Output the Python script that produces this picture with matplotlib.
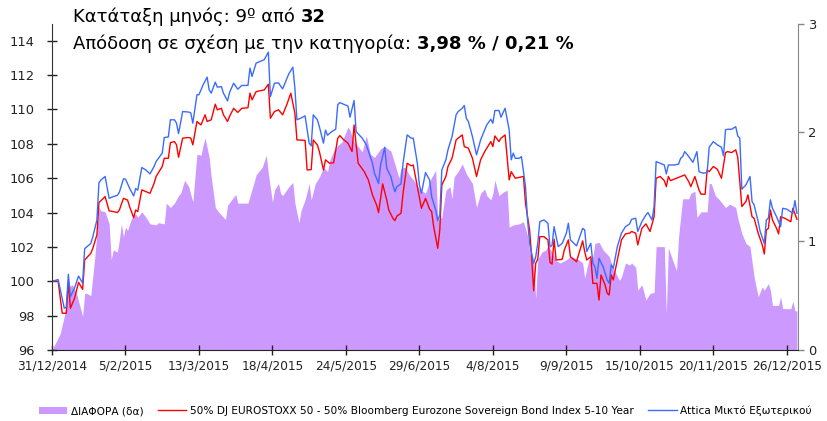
import numpy as np
import matplotlib
matplotlib.use("Agg")
import matplotlib.pyplot as plt
import matplotlib.dates as mdates
from matplotlib.patches import Patch
from matplotlib.lines import Line2D
import datetime as dt

# ---------------- data ----------------
start_date = "2014-12-31"
end_date = "2015-12-31"

# Attica Μικτό Εξωτερικού (day offset from start, value)
fund_days = [0, 3, 6, 7, 8, 9, 11, 13, 15, 16, 19, 20, 22, 23, 24, 26, 28, 30, 32, 33, 35, 36, 38, 40, 41, 42,
             44, 46, 48, 50, 51, 54, 55, 57, 58, 60, 61, 62, 64, 67, 68, 69, 71, 72, 74, 76, 77, 78, 80, 81, 83, 84,
             86, 87, 89, 91, 93, 96, 97, 98, 100, 102, 104, 106, 107, 109, 111, 112, 113, 116, 118, 119, 120, 122,
             124, 126, 127, 128, 130, 131, 133, 134, 135, 137, 139, 140, 141, 145, 146, 148, 149, 152, 154, 157,
             158, 160, 161, 163, 164, 166, 167, 168, 169, 171, 172, 174, 176, 177, 179, 180, 181, 183, 185, 186,
             188, 189, 190, 191, 193, 194, 196, 198, 199, 201, 202, 203, 204, 206, 208, 210, 212, 213, 215, 216,
             217, 219, 220, 221, 222, 224, 225, 226, 227, 229, 230, 232, 233, 234, 236, 237, 238, 239, 241, 243,
             244, 245, 246, 248, 250, 252, 253, 254, 257, 260, 261, 262, 264, 265, 266, 267, 268, 270, 272, 273,
             274, 275, 277, 279, 281, 283, 284, 286, 287, 289, 291, 292, 294, 295, 296, 298, 300, 301, 302, 305,
             307, 308, 309, 310, 312, 314, 316, 317, 319, 321, 322, 324, 326, 328, 329, 330, 331, 333, 335, 336,
             337, 338, 340, 342, 343, 344, 346, 347, 349, 350, 351, 352, 353, 355, 357, 358, 360, 363, 364, 365]
fund_vals = [100.0, 100.1, 98.43, 98.5, 100.41, 99.1, 99.6, 100.3, 99.9, 101.9, 102.2, 102.6, 103.57, 105.74,
             105.9, 106.1, 104.83, 104.93, 105.0, 105.18, 105.96, 105.95, 105.42, 104.97, 105.4, 105.3,
             106.62, 106.48, 106.25, 106.68, 106.97, 107.46, 108.37, 108.4, 109.4, 109.4, 109.2, 108.6, 109.88,
             109.85, 109.8, 109.2, 110.85, 110.86, 111.43, 111.88, 111.14, 110.95, 111.59, 111.3, 111.33, 110.95,
             110.5, 110.99, 111.53, 111.18, 111.4, 111.4, 112.41, 111.92, 112.7, 112.8, 112.9, 113.34, 110.75,
             111.53, 111.55, 111.36, 111.2, 112.07, 112.46, 111.24, 109.4, 109.5,
             109.63, 108.04, 107.88, 109.69, 109.4, 109.0, 108.04, 108.8, 108.5, 108.71, 108.85, 110.27, 110.4,
             110.2, 109.55, 110.52, 108.71, 108.33, 107.94, 106.87,
             106.29, 105.7, 106.77, 107.8, 106.58, 106.1, 105.61, 105.22, 105.51, 105.67, 106.87, 108.52, 108.33,
             108.33, 106.87, 105.61, 105.12, 106.33, 105.9, 104.93,
             104.15, 103.53, 103.86, 106.48, 107.07, 107.65, 108.42, 109.69, 109.88, 110.07, 110.23, 109.49,
             109.3, 108.42, 107.36, 108.23, 108.81, 109.1, 109.43, 109.2,
             109.94, 109.94, 109.55, 109.82, 110.07, 108.81, 107.07, 107.46, 107.16, 107.16, 107.26, 105.51,
             103.57, 102.21, 101.05, 101.43, 102.21, 103.47, 103.57, 103.38,
             102.0, 102.1, 103.18, 102.02, 102.21, 102.8, 103.38, 102.41, 102.06, 103.08, 102.99, 101.73, 102.21,
             101.05, 100.85, 100.17, 101.34, 100.85, 100.08, 99.88,
             100.95, 100.76, 102.02, 102.8, 103.18, 103.34, 103.61, 103.67, 102.9, 103.47, 103.86, 104.0, 103.57,
             104.35, 106.97, 106.87, 106.77, 106.25, 106.77, 106.77,
             106.82, 107.16, 107.26, 107.55, 107.26, 106.92, 107.55, 106.38, 106.29, 106.33, 107.8, 108.13,
             107.94, 107.8, 107.3, 108.81, 108.85, 108.85, 109.0, 108.46,
             108.33, 105.36, 105.61, 106.1, 104.64, 104.45, 103.47, 102.89, 102.21, 103.57, 103.67, 104.74,
             104.25, 103.76, 103.18, 104.25, 104.2, 103.96, 104.7, 103.96]

# 50% DJ EUROSTOXX 50 - 50% Bloomberg Eurozone Sovereign Bond Index 5-10 Year
bench_days = [0, 3, 5, 7, 8, 9, 11, 13, 15, 16, 19, 20, 22, 23, 26, 28, 30, 32, 33, 35, 37, 38, 40, 41, 42, 44,
              46, 48, 50, 51, 54, 55, 57, 58, 60, 61, 62, 64, 67, 68, 69, 71, 73, 75, 76, 78, 80, 81, 83, 84, 86,
              87, 89, 91, 93, 96, 97, 98, 100, 104, 106, 107, 109, 111, 113, 115, 117, 119, 120, 124, 125, 127,
              128, 130, 131, 133, 134, 136, 138, 140, 141, 143, 145, 147, 148, 150, 153, 155, 157, 159, 160, 162,
              164, 165, 167, 168, 169, 171, 172, 174, 176, 177, 179, 181, 183, 185, 186, 187, 189, 190, 191, 193,
              194, 196, 198, 199, 201, 202, 204, 206, 208, 210, 212, 214, 215, 216, 217, 219, 220, 222, 224, 225,
              227, 229, 231, 232, 234, 235, 236, 237, 238, 239, 241, 243, 244, 245, 246, 247, 250, 251, 253, 254,
              257, 260, 261, 262, 264, 265, 267, 268, 269, 271, 272, 273, 274, 275, 277, 279, 281, 283, 284, 286,
              287, 289, 291, 293, 295, 296, 298, 300, 301, 302, 303, 306, 308, 310, 312, 313, 315, 317, 318, 320,
              321, 322, 324, 326, 328, 330, 331, 333, 335, 336, 338, 340, 341, 343, 344, 346, 348, 349, 350, 351,
              352, 353, 355, 356, 357, 359, 362, 363, 365]
bench_vals = [100.0, 100.0, 98.14, 98.14, 99.98, 98.43, 99.0, 99.94, 99.53, 101.24, 101.63, 101.92, 102.7,
              104.58, 104.93, 104.1, 104.06, 104.0, 104.15, 104.83, 104.73, 104.35, 103.7, 104.15, 104.06, 105.32,
              105.22, 105.12, 105.7, 106.1, 106.68, 107.16, 107.16, 108.07, 108.13, 107.94, 107.22, 108.33,
              108.37, 108.33, 107.94, 109.3, 109.1, 109.69, 109.3, 109.4, 110.31, 109.98, 110.07, 109.69, 109.3,
              109.6, 110.07, 109.83, 110.07, 110.1, 110.95, 110.56, 111.04, 111.14, 111.47, 109.49, 109.88, 109.98,
              109.69, 110.27, 110.95, 109.78, 108.23, 108.2, 106.48, 106.5,
              108.23, 107.94, 107.55, 106.48, 107.07, 106.87, 106.9, 108.33, 108.48, 108.23, 108.04, 107.55, 109.1,
              106.87, 106.38, 105.9, 105.03, 104.45, 104.0, 105.67,
              104.74, 104.15, 103.67, 103.53, 103.8, 103.96, 105.12, 106.87, 106.72, 106.77, 105.51, 104.25,
              104.83, 104.2, 104.06, 103.18, 101.92, 102.99, 105.61, 106.1,
              106.68, 107.16, 108.23, 108.33, 108.52, 107.84, 107.75, 107.16, 106.1, 107.07, 107.55, 107.94, 108.13,
              107.84, 108.46, 108.13, 108.33, 108.52, 105.9, 106.38,
              106.0, 106.05, 106.1, 104.54, 102.99, 101.43, 99.45, 101.05, 101.28, 102.6, 102.6, 102.41, 101.1,
              101.0, 102.45, 101.24, 101.28, 101.82, 102.41, 101.43,
              101.14, 102.35, 101.73, 101.24, 101.43, 99.88, 99.88, 98.91, 100.37, 99.79, 99.3, 99.2, 100.37,
              100.08, 101.24, 102.41, 102.76, 102.8, 102.9, 102.8,
              102.12, 103.08, 103.34, 102.9, 103.76, 106.0, 106.1, 105.86, 105.51, 106.1, 105.86, 106.0, 106.1,
              106.19, 105.8, 105.51, 106.1, 105.32, 105.07, 105.07,
              106.48, 106.38, 106.68, 106.52, 106.0, 107.49, 107.55, 107.49, 107.65, 107.22, 104.35, 104.64,
              105.03, 103.76, 103.67, 102.8, 102.12, 101.59, 102.99, 103.08,
              104.15, 103.57, 103.08, 102.76, 103.76, 103.67, 103.47, 104.25, 103.61]

# ΔΙΑΦΟΡΑ (δα), right axis
diff_days = [0, 4, 6, 8, 10, 12, 15, 16, 17, 19, 21, 23, 24, 26, 28, 29, 30, 32, 33, 34, 35, 36, 37, 39, 41,
             42, 44, 46, 48, 51, 52, 55, 56, 58, 60, 62, 63, 65, 67, 69, 71, 73, 74, 75, 77, 78, 80, 82, 85, 86,
             88, 90, 91, 93, 96, 99, 100, 103, 105, 106, 108, 109, 111, 112, 113, 116, 118, 119, 121, 122, 124,
             126, 127, 129, 131, 133, 135, 136, 138, 140, 142, 145, 146, 148, 150, 152, 154, 156, 158, 161, 163,
             166, 168, 170, 171, 173, 175, 178, 180, 183, 185, 187, 188, 189, 191, 192, 193, 195, 196, 197, 199,
             201, 203, 206, 208, 210, 212, 213, 215, 216, 217, 219, 221, 223, 224, 226, 229, 231, 233, 234, 236,
             237, 238, 240, 242, 243, 245, 247, 249, 252, 254, 258, 260, 261, 263, 265, 266, 268, 270, 273, 275,
             278, 279, 281, 283, 284, 286, 287, 289, 291, 293, 295, 296, 300, 301, 302, 304, 306, 307, 308, 309,
             312, 313, 315, 316, 318, 321, 322, 323, 325, 327, 330, 332, 335, 336, 338, 340, 342, 344, 346, 348,
             349, 351, 352, 353, 356, 357, 358, 362, 363, 364, 365]
diff_vals = [0.0, 0.15, 0.31, 0.58, 0.6, 0.52, 0.31, 0.52, 0.52, 0.5, 0.86, 1.31, 1.28, 1.27, 1.16, 0.83, 0.92,
             0.9, 1.01, 1.16, 1.04, 1.13, 1.1, 1.21, 1.25,
             1.22, 1.27, 1.22, 1.16, 1.15, 1.17, 1.16, 1.35, 1.31, 1.35, 1.42, 1.44, 1.56, 1.5, 1.36, 1.8, 1.79,
             1.88, 1.95, 1.77, 1.59, 1.31, 1.26, 1.2, 1.33,
             1.38, 1.43, 1.35, 1.35, 1.35, 1.54, 1.61, 1.68, 1.79, 1.62, 1.36, 1.47, 1.53, 1.44, 1.42, 1.5, 1.54,
             1.35, 1.17, 1.28, 1.38,
             1.53, 1.38, 1.53, 1.59, 1.68, 1.64, 1.74, 1.83, 1.88, 1.91, 2.05, 2.02, 1.91, 1.87, 1.82, 1.97, 1.8,
             1.77, 1.85, 1.87,
             1.83, 1.71, 1.58, 1.67, 1.68, 1.61, 1.54, 1.48, 1.44, 1.55, 1.62, 1.65, 1.19, 1.22, 1.35, 1.47, 1.5,
             1.39, 1.59, 1.64,
             1.71, 1.62, 1.53, 1.31, 1.44, 1.48, 1.42, 1.38, 1.44, 1.56, 1.42, 1.45, 1.47, 1.13, 1.15, 1.16, 1.18,
             1.05, 0.9, 0.8,
             0.47, 0.83, 0.9, 0.92, 0.96, 0.9, 0.82, 0.8, 0.83, 0.86, 0.83, 0.8, 0.66, 0.83, 0.86, 0.98, 0.99,
             0.92, 0.86, 0.75,
             0.64, 0.67, 0.8, 0.78, 0.8, 0.76, 0.55, 0.6, 0.46, 0.52, 0.53, 0.95, 0.95, 0.34, 0.94, 0.83, 0.73,
             1.04, 1.22, 1.39,
             1.39, 1.44, 1.46, 1.22, 1.27, 1.27, 1.53, 1.53, 1.42, 1.38, 1.31, 1.34, 1.31, 1.21, 1.07, 0.98, 0.95,
             0.67, 0.49, 0.58,
             0.55, 0.61, 0.55, 0.41, 0.41, 0.49, 0.38, 0.38, 0.45, 0.36, 0.36]

tick_step_days = 36
left_ticks = [96, 98, 100, 102, 104, 106, 108, 110, 112, 114]
right_ticks = [0, 1, 2, 3]

title_line1 = ["Κατάταξη μηνός: 9º από ", "32"]
title_line2 = ["Απόδοση σε σχέση με την κατηγορία: ", "3,98 % / 0,21 %"]
legend_labels = ["ΔΙΑΦΟΡΑ (δα)",
                 "50% DJ EUROSTOXX 50 - 50% Bloomberg Eurozone Sovereign Bond Index 5-10 Year",
                 "Attica Μικτό Εξωτερικού"]

# ---------------- plot ----------------
plt.rcParams['font.family'] = ['DejaVu Sans']
c_area = '#CC99FF'
c_red = '#FF0000'
c_blue = '#3A6CFF'

d0 = np.datetime64(start_date)
to_num = lambda days: mdates.date2num((d0 + np.array(days, dtype='timedelta64[D]')).astype('datetime64[ms]').astype(dt.datetime))

fig = plt.figure(figsize=(8.27, 4.21), dpi=100)
ax = fig.add_axes([0.0629, 0.1686, 0.902, 0.7754])
ax2 = ax.twinx()

ax2.fill_between(to_num(diff_days), 0, diff_vals, color=c_area, lw=0)
ax.plot(to_num(bench_days), bench_vals, color=c_red, lw=1.0)
ax.plot(to_num(fund_days), fund_vals, color=c_blue, lw=1.0)

ax.set_zorder(ax2.get_zorder() + 1)
ax.patch.set_visible(False)

x0 = mdates.date2num(dt.datetime(2014, 12, 31))
x1 = mdates.date2num(dt.datetime(2015, 12, 31)) + 0.5
ax.set_xlim(x0, x1)
ax.set_ylim(96, 115)
ax2.set_ylim(0, 3)
ax.set_yticks(left_ticks)
ax2.set_yticks(right_ticks)

tick_pos = [x0 + k * tick_step_days for k in range(11)]
tick_lab = [mdates.num2date(t).strftime('%d/%m/%Y') for t in tick_pos]
tick_lab = ['/'.join(str(int(p)) for p in s.split('/')) for s in tick_lab]
ax.set_xticks(tick_pos)
ax.set_xticklabels(tick_lab)

for a in (ax, ax2):
    a.spines['top'].set_visible(False)
ax.spines['right'].set_visible(False)
ax2.spines['left'].set_visible(False)
ax2.spines['bottom'].set_visible(False)
ax.spines['left'].set_color('#333333')
ax.spines['bottom'].set_color('#222222')
ax2.spines['right'].set_color('#888888')

ax.tick_params(axis='y', direction='inout', length=7, width=1, labelsize=9.4, pad=9, colors='#222222')
ax.tick_params(axis='x', direction='inout', length=7, width=1, labelsize=8.7, pad=3, colors='#222222')
ax2.tick_params(axis='y', direction='out', length=4, width=1, labelsize=9.4, pad=3, color='#888888', labelcolor='#222222')

# title with mixed weights
fig.canvas.draw()
renderer = fig.canvas.get_renderer()

def mixed_text(x, y, parts, size):
    cur = x
    for i, p in enumerate(parts):
        t = fig.text(cur, y, p, fontsize=size, fontweight='bold' if i % 2 else 'normal',
                     ha='left', va='center', transform=None)
        bb = t.get_window_extent(renderer=renderer)
        cur = bb.x1

H = 421
mixed_text(73, H - 17, title_line1, 13.0)
mixed_text(73, H - 44, title_line2, 13.0)

handles = [Patch(facecolor=c_area, edgecolor='none'),
           Line2D([0], [0], color=c_red, lw=1.0),
           Line2D([0], [0], color=c_blue, lw=1.0)]
fig.legend(handles, legend_labels, loc='center', bbox_to_anchor=(0.514, 0.024), ncol=3, frameon=False,
           prop={'size': 7.6},
           handlelength=2.7, handleheight=0.75, handletextpad=0.3, columnspacing=1.4)

fig.savefig('out.png', dpi=100)
